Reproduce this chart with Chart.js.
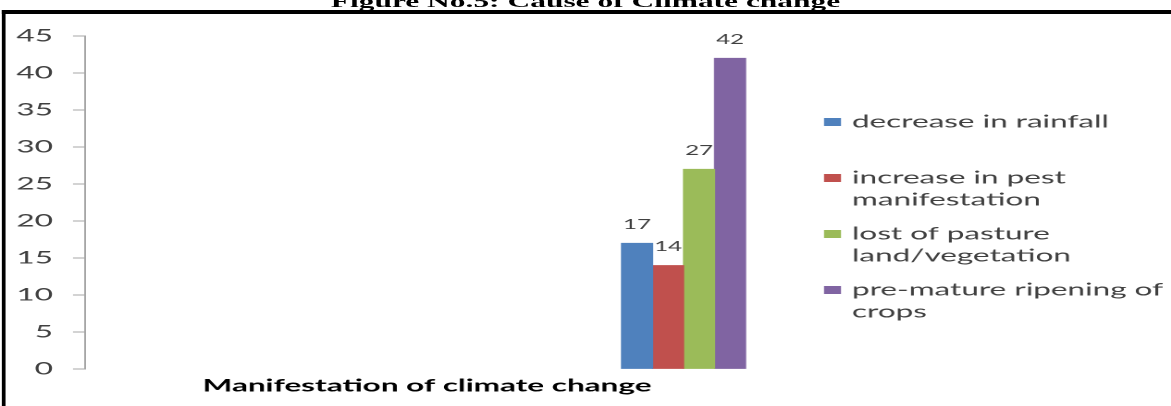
<!DOCTYPE html>
<html>
<head>
<meta charset="utf-8">
<script src="https://cdn.jsdelivr.net/npm/chart.js@4.4.1/dist/chart.umd.min.js"></script>
<style>
  html, body { margin: 0; padding: 0; background: #fff; overflow: hidden; width: 1171px; height: 406px; }
  #page { position: absolute; left: 0; top: 0; height: 406px; transform-origin: 0 0; }
  #title {
    position: absolute; left: 0; right: 0; top: -7px;
    font: bold 17px/17px "Liberation Serif", "Times New Roman", serif;
    text-align: center; color: #000; white-space: nowrap;
  }
  #frame {
    position: absolute; left: 0.6px; top: 10px; width: 2000px; height: 800px;
    border-top: 4px solid #000; border-left: 2px solid #000;
  }
  #chartBox { position: absolute; left: 0; top: 0; height: 406px; }
</style>
</head>
<body>
<div id="page">
  <div id="title">Figure No.5: Cause of Climate change</div>
  <div id="frame"></div>
  <div id="chartBox"><canvas id="causeChart"></canvas></div>
</div>
<script>
// --- data ---
const categories = ['Manifestation of climate change'];
const seriesLabels = [
  'decrease in rainfall',
  'increase in pest manifestation',
  'lost of pasture land/vegetation',
  'pre-mature ripening of crops'
];
const rainfall = [17];
const pests = [14];
const pasture = [27];
const ripening = [42];
const yTickValues = [0, 5, 10, 15, 20, 25, 30, 35, 40, 45];

const seriesValues = [rainfall, pests, pasture, ripening];
const seriesColors = ['#4F81BD', '#C0504D', '#9BBB59', '#8064A2'];

// the figure is a wide, horizontally stretched copy of the chart
const STRETCH = 1.85;
const PAGE_W = 1171 / STRETCH;
const sx = v => v / STRETCH;

const page = document.getElementById('page');
page.style.width = PAGE_W + 'px';
page.style.transform = `scaleX(${STRETCH})`;
document.getElementById('chartBox').style.width = PAGE_W + 'px';

const FONT = 'Lato, "Open Sans", sans-serif';
const TEXT_GREY = '#404040';
const AXIS_GREY = '#a6a6a6';

// plot area edges
const AXIS_X = sx(85);
const PLOT_RIGHT = sx(769);
const PLOT_TOP = 36;
const PLOT_BOTTOM = 369;

function wrapText(ctx, text, maxWidth) {
  const words = text.split(' ');
  const lines = [];
  let line = '';
  words.forEach(w => {
    const test = line ? line + ' ' + w : w;
    if (line && ctx.measureText(test).width > maxWidth) {
      lines.push(line);
      line = w;
    } else {
      line = test;
    }
  });
  if (line) lines.push(line);
  return lines;
}

// value labels above each bar
const barValueLabels = {
  id: 'barValueLabels',
  afterDatasetsDraw(chart, args, opts) {
    const ctx = chart.ctx;
    ctx.save();
    ctx.font = opts.font;
    ctx.fillStyle = opts.color;
    ctx.textAlign = 'center';
    ctx.textBaseline = 'middle';
    chart.data.datasets.forEach((ds, i) => {
      chart.getDatasetMeta(i).data.forEach((bar, j) => {
        ctx.fillText(String(ds.data[j].y), bar.x, bar.y - opts.offset);
      });
    });
    ctx.restore();
  }
};

// legend on the right, entries spread evenly, long labels wrapped
const sideLegend = {
  id: 'sideLegend',
  afterDraw(chart, args, opts) {
    const ctx = chart.ctx;
    ctx.save();
    ctx.font = opts.font;
    ctx.textBaseline = 'middle';
    ctx.textAlign = 'left';
    chart.data.datasets.forEach((ds, i) => {
      const y = opts.top + i * opts.step;
      ctx.fillStyle = ds.backgroundColor;
      ctx.fillRect(opts.boxX, y - opts.boxH / 2, opts.boxW, opts.boxH);
      ctx.fillStyle = opts.color;
      wrapText(ctx, ds.label, opts.maxWidth).forEach((line, k) => {
        ctx.fillText(line, opts.textX, y + k * opts.lineHeight);
      });
    });
    ctx.restore();
  }
};

const datasets = seriesLabels.map((label, i) => ({
  label: label,
  // x is the category index; the single category sits in the last of four slots
  data: seriesValues[i].map((v, j) => ({ x: j, y: v })),
  backgroundColor: seriesColors[i],
  borderWidth: 0,
  barThickness: sx(31)
}));

new Chart(document.getElementById('causeChart'), {
  type: 'bar',
  data: { datasets: datasets },
  plugins: [barValueLabels, sideLegend],
  options: {
    responsive: true,
    maintainAspectRatio: false,
    animation: false,
    devicePixelRatio: 2,
    layout: { padding: { top: PLOT_TOP, left: 0, bottom: 0, right: PAGE_W - PLOT_RIGHT } },
    plugins: {
      legend: { display: false },
      tooltip: { enabled: false },
      barValueLabels: { font: `13px ${FONT}`, color: TEXT_GREY, offset: 18.5 },
      sideLegend: {
        font: `17px ${FONT}`, color: TEXT_GREY,
        boxX: sx(824), boxW: sx(17), boxH: 8,
        textX: sx(852), top: 122, step: 56, lineHeight: 22,
        maxWidth: 175
      }
    },
    scales: {
      x: {
        type: 'linear',
        min: -3.5,
        max: categories.length - 0.5,
        offset: false,
        grid: { display: false },
        border: { display: false },
        ticks: { display: false },
        title: {
          display: true,
          text: categories[0],
          color: '#000',
          font: { family: FONT, size: 17, weight: 'bold' },
          padding: { top: 0, bottom: 10 }
        },
        afterFit: s => { s.height = 406 - PLOT_BOTTOM; }
      },
      y: {
        min: 0,
        max: 45,
        afterBuildTicks: s => { s.ticks = yTickValues.map(v => ({ value: v })); },
        grid: { drawOnChartArea: false, drawTicks: true, tickLength: sx(12), color: AXIS_GREY },
        border: { display: true, color: AXIS_GREY, width: 1 },
        ticks: { color: TEXT_GREY, font: { family: FONT, size: 17 }, padding: sx(20) },
        afterFit: s => { s.width = AXIS_X; }
      }
    }
  }
});
</script>
</body>
</html>
